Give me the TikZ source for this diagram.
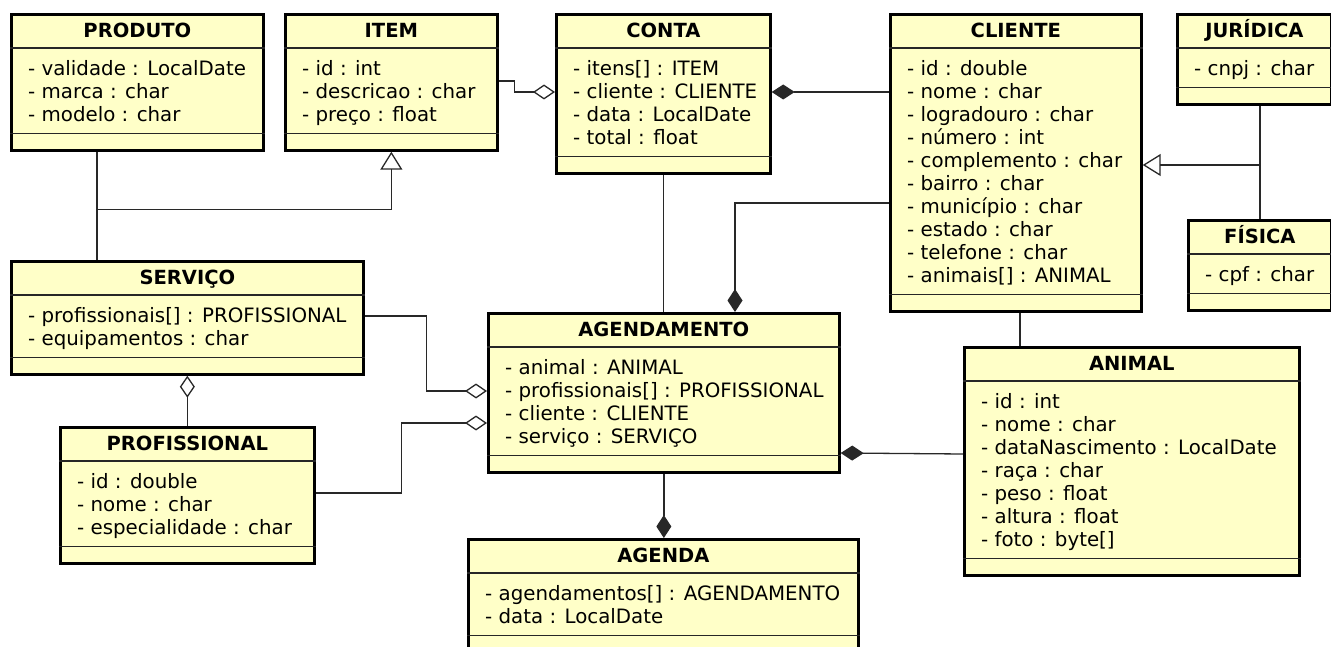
\documentclass[tikz,border=0pt]{standalone}
\usepackage{fontspec}
\setmainfont{DejaVu Sans}
\usetikzlibrary{arrows.meta}
\definecolor{umlfill}{RGB}{255,255,200}
\definecolor{linecol}{RGB}{40,40,40}
\tikzset{
  umlbox/.style={draw=black, line width=2.7pt, fill=umlfill, inner sep=0pt, rectangle},
  sepline/.style={draw=black!85, line width=1.2pt},
  titletext/.style={font=\fontsize{19.5}{23}\selectfont\bfseries, inner sep=0pt},
  attrtext/.style={font=\fontsize{19.8}{23}\selectfont, inner sep=0pt},
  conn/.style={draw=linecol, line width=1.3pt},
  agg/.style={conn, -{Diamond[open, length=22pt, width=15pt]}},
  comp/.style={conn, -{Diamond[length=23pt, width=15pt]}},
  gen/.style={conn, -{Triangle[open, length=18pt, width=22pt]}},
}
\newcommand\umlclass[7]{%
  \node[umlbox, minimum width=#4pt, minimum height={67pt+23pt*#7}, anchor=north west] (#1) at (#2,#3) {};
  \draw[sepline] ([yshift=-35pt]#1.north west) -- ([yshift=-35pt]#1.north east);
  \draw[sepline] ([yshift=18pt]#1.south west) -- ([yshift=18pt]#1.south east);
  \node[titletext, anchor=base] (#1-title) at ([yshift=-24.5pt]#1.north) {#5};
  \foreach \t [count=\i] in {#6} {\node[attrtext, anchor=base west] (#1-\i) at ([xshift=18pt, yshift={-62.5pt-(\i-1)*23pt}]#1.north west) {\t};}
}
\begin{document}
\begin{tikzpicture}[x=1pt, y=-1pt]
\useasboundingbox (0,0) rectangle (1331,647);
\clip (0,0) rectangle (1331,647);
\umlclass{produto}{10}{13}{252}{PRODUTO}{- validade : LocalDate, - marca : char, - modelo : char}{3}
\umlclass{item}{284}{13}{212}{ITEM}{- id : int, - descricao : char, - preço : float}{3}
\umlclass{conta}{555}{13}{214}{CONTA}{- itens[] : ITEM, - cliente : CLIENTE, - data : LocalDate, - total : float}{4}
\umlclass{cliente}{889}{13}{251}{CLIENTE}{- id : double, - nome : char, - logradouro : char, - número : int, - complemento : char, - bairro : char, - município : char, - estado : char, - telefone : char, - animais[] : ANIMAL}{10}
\umlclass{juridica}{1176}{13}{154}{JURÍDICA}{- cnpj : char}{1}
\umlclass{fisica}{1187}{219}{143}{FÍSICA}{- cpf : char}{1}
\umlclass{servico}{10}{260}{352}{SERVIÇO}{- profissionais[] : PROFISSIONAL, - equipamentos : char}{2}
\umlclass{profissional}{59}{426}{254}{PROFISSIONAL}{- id : double, - nome : char, - especialidade : char}{3}
\umlclass{agendamento}{487}{312}{351}{AGENDAMENTO}{- animal : ANIMAL, - profissionais[] : PROFISSIONAL, - cliente : CLIENTE, - serviço : SERVIÇO}{4}
\umlclass{agenda}{467}{538}{390}{AGENDA}{- agendamentos[] : AGENDAMENTO, - data : LocalDate}{2}
\umlclass{animal}{963}{346}{335}{ANIMAL}{- id : int, - nome : char, - dataNascimento : LocalDate, - raça : char, - peso : float, - altura : float, - foto : byte[]}{7}
% ITEM -> CONTA
\draw[agg] ([yshift=-68pt]item.north east) -- ++(16,0) |- ([yshift=-79pt]conta.north west);
% CLIENTE -> CONTA
\draw[comp] ([yshift=-79pt]cliente.north west) -- ([yshift=-79pt]conta.north east);
% CLIENTE -> AGENDAMENTO
\draw[comp] ([yshift=-190pt]cliente.north west) -| ([xshift=248pt]agendamento.north west);
% CONTA -- AGENDAMENTO
\draw[conn] (conta.south) -- (conta.south |- agendamento.north);
% PRODUTO, SERVICO -> ITEM
\coordinate (pj) at ([xshift=87pt, yshift=-58pt]produto.south west);
\draw[conn] ([xshift=87pt]produto.south west) -- ([xshift=87pt]servico.north west);
\draw[gen] (pj) -| (item.south);
% JURIDICA, FISICA -> CLIENTE
\coordinate (gj) at ([yshift=-152pt]cliente.north east);
\draw[conn] (fisica.north) -- (fisica.north |- juridica.south);
\draw[gen] (fisica.north |- gj) -- (gj);
% CLIENTE -- ANIMAL
\coordinate (ca) at ([xshift=131pt]cliente.south west);
\draw[conn] (ca) -- (ca |- animal.north);
% ANIMAL -> AGENDAMENTO
\draw[comp] ([yshift=-108pt]animal.north west) -- ([yshift=-141pt]agendamento.north east);
% AGENDA <- AGENDAMENTO
\draw[comp] (agendamento.south) -- (agendamento.south |- agenda.north);
% SERVICO -> AGENDAMENTO
\draw[agg] ([yshift=-56pt]servico.north east) -- ++(62,0) |- ([yshift=-79pt]agendamento.north west);
% PROFISSIONAL -> AGENDAMENTO
\draw[agg] ([yshift=-67pt]profissional.north east) -- ++(86,0) |- ([yshift=-111pt]agendamento.north west);
% PROFISSIONAL -> SERVICO
\draw[agg] (profissional.north) -- (profissional.north |- servico.south);
\end{tikzpicture}
\end{document}
